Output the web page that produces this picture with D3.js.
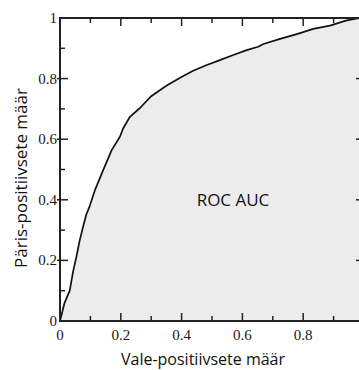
<!DOCTYPE html>
<html>
<head>
<meta charset="utf-8">
<script src="https://cdn.jsdelivr.net/npm/d3@7"></script>
<style>
  body { margin: 0; background: #fff; }
  svg { display: block; }
</style>
</head>
<body>
<svg width="359" height="370"></svg>
<script>
// ROC curve (false positive rate, true positive rate)
const fpr = [0, 0.015, 0.032, 0.043, 0.054, 0.065, 0.076, 0.086, 0.098, 0.115, 0.142, 0.17, 0.197,
  0.208, 0.23, 0.263, 0.30, 0.351, 0.395, 0.438, 0.483, 0.526, 0.57, 0.614, 0.652, 0.669, 0.724,
  0.779, 0.833, 0.888, 0.943, 0.984, 1];
const tpr = [0, 0.06, 0.10, 0.163, 0.212, 0.267, 0.311, 0.35, 0.38, 0.432, 0.498, 0.564, 0.608,
  0.636, 0.674, 0.703, 0.742, 0.777, 0.803, 0.826, 0.845, 0.861, 0.878, 0.894, 0.905, 0.914, 0.931,
  0.947, 0.964, 0.975, 0.992, 1.0, 1];

const majorTicks = [0, 0.2, 0.4, 0.6, 0.8, 1];
const minorTicks = [0.1, 0.3, 0.5, 0.7, 0.9];
const tickLabels = ['0', '0.2', '0.4', '0.6', '0.8', '1'];

const xTitle = 'Vale-positiivsete määr';
const yTitle = 'Päris-positiivsete määr';
const areaLabel = 'ROC AUC';

const svg = d3.select('svg');
const plot = { left: 60, top: 18, right: 364, bottom: 321 };

const x = d3.scaleLinear().domain([0, 1]).range([plot.left, plot.right]);
const y = d3.scaleLinear().domain([0, 1]).range([plot.bottom, plot.top]);

const points = fpr.map((v, i) => [v, tpr[i]]);

// shaded area under the curve
svg.append('path')
  .datum(points)
  .attr('fill', '#ececec')
  .attr('d', d3.area()
    .x((d) => x(d[0]))
    .y0(y(0))
    .y1((d) => y(d[1])));

// curve
svg.append('path')
  .datum(points)
  .attr('fill', 'none')
  .attr('stroke', '#111')
  .attr('stroke-width', 1.7)
  .attr('stroke-linejoin', 'round')
  .attr('d', d3.line()
    .x((d) => x(d[0]))
    .y((d) => y(d[1])));

// frame
svg.append('rect')
  .attr('x', plot.left)
  .attr('y', plot.top)
  .attr('width', plot.right - plot.left)
  .attr('height', plot.bottom - plot.top)
  .attr('fill', 'none')
  .attr('stroke', '#222')
  .attr('stroke-width', 2);

// ticks on all four sides, pointing in
const ticks = svg.append('g').attr('stroke', '#222').attr('stroke-width', 1.5);
function addTicks(values, len, out) {
  values.forEach((v) => {
    ticks.append('line').attr('x1', x(v)).attr('x2', x(v)).attr('y1', plot.bottom).attr('y2', plot.bottom - len);
    ticks.append('line').attr('x1', x(v)).attr('x2', x(v)).attr('y1', plot.top).attr('y2', plot.top + len);
    ticks.append('line').attr('y1', y(v)).attr('y2', y(v)).attr('x1', plot.left - out).attr('x2', plot.left + len);
    ticks.append('line').attr('y1', y(v)).attr('y2', y(v)).attr('x1', plot.right).attr('x2', plot.right - len);
  });
}
addTicks(majorTicks.slice(1, -1), 8, 3);
addTicks(minorTicks, 5, 0);

// tick labels
const labelFont = '"Liberation Serif", "DejaVu Serif", serif';
svg.append('g')
  .selectAll('text')
  .data(majorTicks.slice(0, -1))
  .join('text')
  .attr('x', (d) => x(d))
  .attr('y', plot.bottom + 19)
  .attr('text-anchor', 'middle')
  .attr('font-family', labelFont)
  .attr('font-size', 15)
  .attr('fill', '#1a1a1a')
  .text((d, i) => tickLabels[i]);

svg.append('g')
  .selectAll('text')
  .data(majorTicks)
  .join('text')
  .attr('x', plot.left - 3)
  .attr('y', (d) => y(d) + 5)
  .attr('text-anchor', 'end')
  .attr('font-family', labelFont)
  .attr('font-size', 15)
  .attr('fill', '#1a1a1a')
  .text((d, i) => tickLabels[i]);

// titles
const titleFont = '"Open Sans", "Noto Sans", sans-serif';
svg.append('text')
  .attr('x', 203)
  .attr('y', 365)
  .attr('text-anchor', 'middle')
  .attr('font-family', titleFont)
  .attr('font-size', 16)
  .attr('fill', '#111')
  .text(xTitle);

svg.append('text')
  .attr('transform', 'translate(27,178) rotate(-90)')
  .attr('text-anchor', 'middle')
  .attr('font-family', titleFont)
  .attr('font-size', 17)
  .attr('fill', '#111')
  .text(yTitle);

svg.append('text')
  .attr('x', 233)
  .attr('y', 206)
  .attr('text-anchor', 'middle')
  .attr('font-family', titleFont)
  .attr('font-size', 17)
  .attr('fill', '#111')
  .text(areaLabel);
</script>
</body>
</html>
